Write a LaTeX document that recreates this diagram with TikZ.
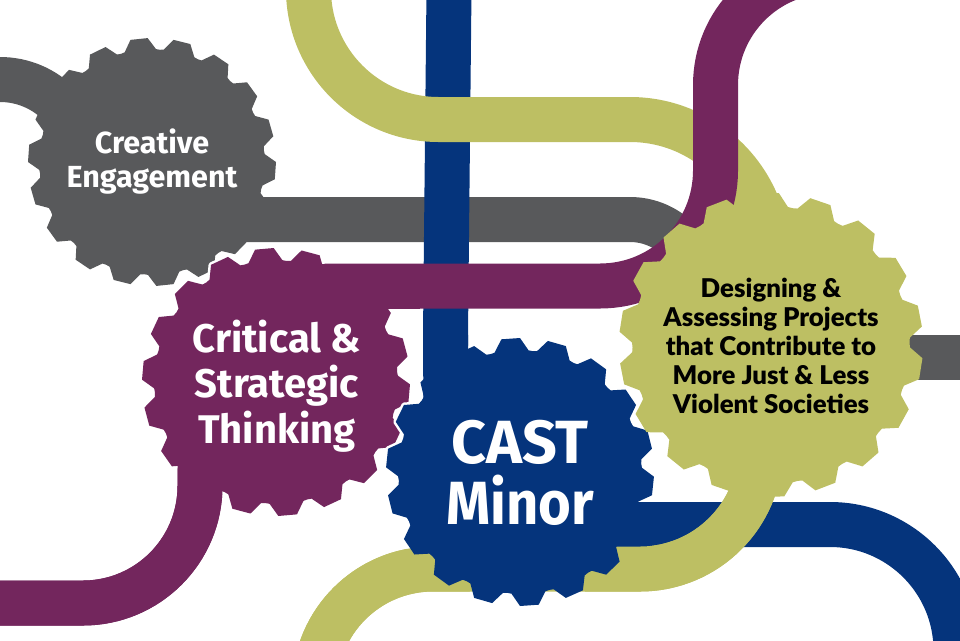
\documentclass[tikz,border=0pt]{standalone}
\usepackage{fontspec}
\setmainfont{Fira Sans}
\newfontfamily\olivefont{Lato}[BoldFont={Lato Black}]
\definecolor{cgrey}{HTML}{58595B}
\definecolor{cpurple}{HTML}{73265D}
\definecolor{cnavy}{HTML}{05347C}
\definecolor{colive}{HTML}{BDBF63}
\newcommand{\gearloop}[3]{%
  (#3-8:#2) \foreach \k [evaluate=\k as \a using #3+20*\k] in {0,...,17} {
    -- (\a-8:#2) -- (\a-4:#1) -- (\a+4:#1) -- (\a+8:#2) -- (\a+10:#2-0.5)
  } -- cycle}
\tikzset{
  pipe/.style={line width=45pt,line cap=butt,line join=round},
  halo/.style={draw=white,line width=5pt,line join=round},
  label/.style={align=center,font=\bfseries,inner sep=0pt}
}
\begin{document}
\begin{tikzpicture}[x=1pt,y=1pt]
\useasboundingbox (0,0) rectangle (960,-640);
% gear centres
\coordinate (gG) at (152,-162);
\coordinate (gP) at (276,-382);
\coordinate (gN) at (520,-472);
\coordinate (gO) at (771,-345);
% grey pipes
\coordinate (ga) at (-10,-79.5);
\coordinate (gb) at (83.5,-79.5);
\coordinate (gc) at (83.5,-163);
\coordinate (gd) at (200,-219.5);
\coordinate (ge) at (698.5,-219.5);
\coordinate (gf) at (698.5,-288);
\coordinate (gh) at (800,-357);
\coordinate (gi) at (970,-357);
\draw[pipe,cgrey,rounded corners=83.5pt] (ga) -- (gb) -- (gc);
\draw[pipe,cgrey,rounded corners=68.5pt] (gd) -- (ge) -- (gf);
\draw[pipe,cgrey] (gh) -- (gi);
\fill[cgrey,shift={(gG)}] \gearloop{124}{113}{16};
% navy pipes
\coordinate (na) at (449,10);
\coordinate (nb) at (445.5,-335);
\coordinate (nc) at (446,-420);
\coordinate (nd) at (560,-524.5);
\coordinate (ne) at (956,-524.5);
\coordinate (nf) at (956,-660);
\coordinate (ng) at (652,-524.5);
\draw[pipe,cnavy] (na) -- (nb) -- (nc);
\draw[pipe,cnavy,rounded corners=126pt] (nd) -- (ne) -- (nf);
% olive pipes
\coordinate (oa) at (308.5,40);
\coordinate (ob) at (308.5,-119.5);
\coordinate (oc) at (767.5,-119.5);
\coordinate (od) at (767.5,-257);
\coordinate (oe) at (314.7,-700);
\coordinate (of) at (314.7,-569);
\coordinate (og) at (760.5,-569);
\coordinate (oh) at (760.5,-440);
\draw[pipe,colive] (oa) [rounded corners=130pt] -- (ob) [rounded corners=137.5pt] -- (oc) -- (od);
\draw[pipe,colive] (oe) [rounded corners=118.3pt] -- (of) [rounded corners=120.5pt] -- (og) -- (oh);
% purple pipes
\coordinate (pa) at (-10,-603);
\coordinate (pb) at (200,-603);
\coordinate (pc) at (200,-420);
\coordinate (pd) at (276,-286);
\coordinate (pe) at (715.5,-286);
\coordinate (pf) at (715.5,29);
\coordinate (pg) at (870,29);
\coordinate (ph) at (420,-286);
\draw[pipe,cpurple,rounded corners=117pt] (pa) -- (pb) -- (pc);
\draw[pipe,cpurple] (pd) [rounded corners=115.5pt] -- (pe) [rounded corners=114pt] -- (pf) -- (pg);
% purple gear
\draw[halo,shift={(gP)}] \gearloop{134}{122}{15};
\draw[pipe,cpurple,rounded corners=117pt] (pa) -- (pb) -- (pc);
\draw[pipe,cpurple] (pd) -- (ph);
\fill[cpurple,shift={(gP)}] \gearloop{134}{122}{15};
% navy gear
\draw[halo,shift={(gN)}] \gearloop{134}{122}{14};
\draw[pipe,cnavy] (nb) -- (nc);
\draw[pipe,cnavy] (nd) -- (ng);
\draw[pipe,colive] (oe) [rounded corners=118.3pt] -- (of) [rounded corners=120.5pt] -- (og) -- (oh);
\fill[cnavy,shift={(gN)}] \gearloop{134}{122}{14};
% olive gear
\fill[colive,shift={(gO)}] \gearloop{152}{139}{11};
% labels
\node[label,white,font=\bfseries\fontsize{30.5}{34}\selectfont] (tG) at (152,-161.5) {Creative\\Engagement};
\node[label,white,font=\bfseries\fontsize{40}{45.5}\selectfont] (tP) at (277,-386) {Critical \&\\Strategic\\Thinking};
\node[label,white,font=\bfseries\fontsize{61}{61}\selectfont] (tN) at (520,-473) {CAST\\\scalebox{0.92}[1]{Minor}};
\node[label,black,font=\olivefont\bfseries\fontsize{25.8}{29}\selectfont] (tO) at (771,-346) {Designing \&\\Assessing Projects\\that Contribute to\\More Just \& Less\\Violent Societies};
\end{tikzpicture}
\end{document}
